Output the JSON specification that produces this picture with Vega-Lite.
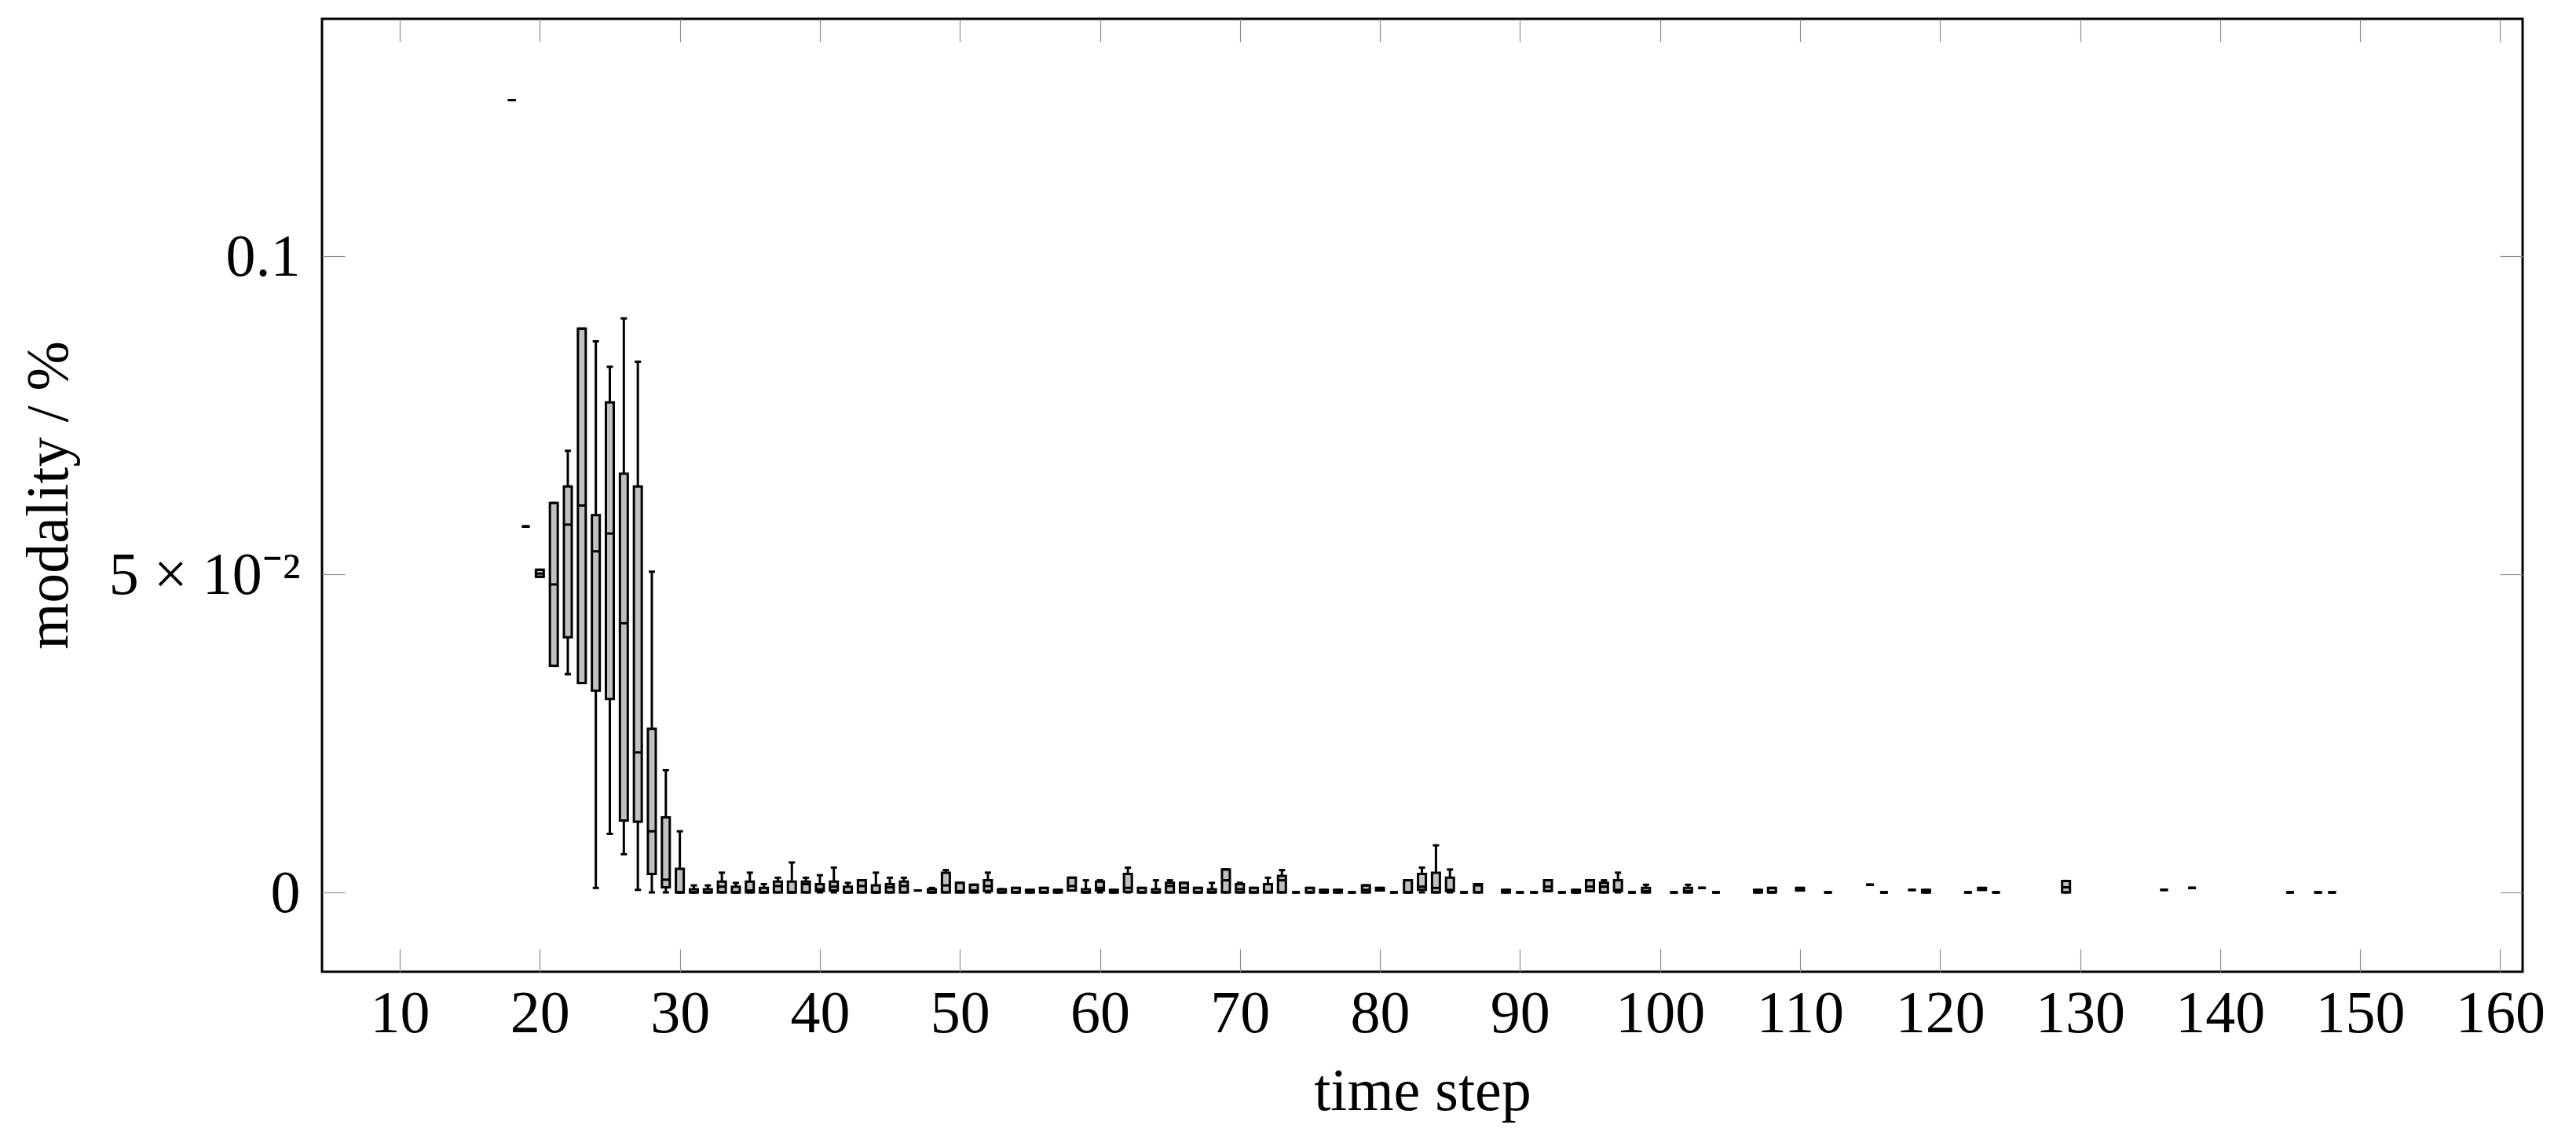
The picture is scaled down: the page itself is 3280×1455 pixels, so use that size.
{
  "$schema": "https://vega.github.io/schema/vega-lite/v6.json",
  "autosize": "none",
  "padding": {"left": 410, "top": 24, "right": 68, "bottom": 218},
  "width": 2802,
  "height": 1213,
  "background": "white",
  "config": {
    "font": "Liberation Serif",
    "view": {"stroke": "black", "strokeWidth": 3},
    "axis": {"grid": false, "domain": false, "labelFlush": false, "labelOverlap": false, "labelLimit": 0, "tickColor": "#8c8c8c", "tickWidth": 1.2, "tickSize": -29, "labelColor": "black", "titleColor": "black", "labelFont": "Liberation Serif", "titleFont": "Liberation Serif", "labelFontSize": 76, "titleFontSize": 76, "titleFontWeight": "normal"}
  },
  "data": {"values": [
    {"step": 18, "lo": 0.1245, "q1": 0.1245, "med": 0.1245, "q3": 0.1245, "hi": 0.1245},
    {"step": 19, "lo": 0.0575, "q1": 0.0575, "med": 0.0575, "q3": 0.0575, "hi": 0.0575},
    {"step": 20, "lo": 0.0496, "q1": 0.0496, "med": 0.0501, "q3": 0.0507, "hi": 0.0507},
    {"step": 21, "lo": 0.0356, "q1": 0.0356, "med": 0.0484, "q3": 0.0612, "hi": 0.0612},
    {"step": 22, "lo": 0.0343, "q1": 0.0401, "med": 0.0578, "q3": 0.0638, "hi": 0.0694},
    {"step": 23, "lo": 0.0329, "q1": 0.0329, "med": 0.0608, "q3": 0.0886, "hi": 0.0886},
    {"step": 24, "lo": 0.0007, "q1": 0.0317, "med": 0.0536, "q3": 0.0593, "hi": 0.0866},
    {"step": 25, "lo": 0.0092, "q1": 0.0304, "med": 0.0564, "q3": 0.0770, "hi": 0.0826},
    {"step": 26, "lo": 0.0060, "q1": 0.0113, "med": 0.0423, "q3": 0.0658, "hi": 0.0902},
    {"step": 27, "lo": 0.0004, "q1": 0.0111, "med": 0.0220, "q3": 0.0638, "hi": 0.0834},
    {"step": 28, "lo": 0, "q1": 0.0029, "med": 0.0096, "q3": 0.0257, "hi": 0.0504},
    {"step": 29, "lo": 0, "q1": 0.0008, "med": 0.0020, "q3": 0.0118, "hi": 0.0192},
    {"step": 30, "lo": 0, "q1": 0, "med": 0, "q3": 0.0037, "hi": 0.0096},
    {"step": 31, "lo": 0, "q1": 0, "med": 0, "q3": 0.0005, "hi": 0.0011},
    {"step": 32, "lo": 0, "q1": 0, "med": 0, "q3": 0.0005, "hi": 0.0011},
    {"step": 33, "lo": 0, "q1": 0, "med": 0.0009, "q3": 0.0017, "hi": 0.0031},
    {"step": 34, "lo": 0, "q1": 0, "med": 0, "q3": 0.0009, "hi": 0.0015},
    {"step": 35, "lo": 0, "q1": 0, "med": 0.0003, "q3": 0.0017, "hi": 0.0031},
    {"step": 36, "lo": 0, "q1": 0, "med": 0, "q3": 0.0007, "hi": 0.0013},
    {"step": 37, "lo": 0, "q1": 0, "med": 0.0010, "q3": 0.0017, "hi": 0.0023},
    {"step": 38, "lo": 0, "q1": 0, "med": 0, "q3": 0.0017, "hi": 0.0047},
    {"step": 39, "lo": 0, "q1": 0, "med": 0.0013, "q3": 0.0017, "hi": 0.0023},
    {"step": 40, "lo": 0, "q1": 0.0002, "med": 0.0005, "q3": 0.0013, "hi": 0.0027},
    {"step": 41, "lo": 0, "q1": 0.0003, "med": 0.0009, "q3": 0.0017, "hi": 0.0039},
    {"step": 42, "lo": 0, "q1": 0, "med": 0, "q3": 0.0009, "hi": 0.0015},
    {"step": 43, "lo": 0, "q1": 0, "med": 0.0010, "q3": 0.0019, "hi": 0.0019},
    {"step": 44, "lo": 0, "q1": 0, "med": 0, "q3": 0.0011, "hi": 0.0031},
    {"step": 45, "lo": 0, "q1": 0, "med": 0.0008, "q3": 0.0013, "hi": 0.0023},
    {"step": 46, "lo": 0, "q1": 0, "med": 0.0010, "q3": 0.0017, "hi": 0.0023},
    {"step": 47, "lo": 0.0003, "q1": 0.0003, "med": 0.0003, "q3": 0.0003, "hi": 0.0003},
    {"step": 48, "lo": 0, "q1": 0, "med": 0, "q3": 0.0005, "hi": 0.0007},
    {"step": 49, "lo": 0, "q1": 0, "med": 0.0011, "q3": 0.0031, "hi": 0.0035},
    {"step": 50, "lo": 0, "q1": 0, "med": 0.0002, "q3": 0.0015, "hi": 0.0015},
    {"step": 51, "lo": 0, "q1": 0, "med": 0.0003, "q3": 0.0012, "hi": 0.0012},
    {"step": 52, "lo": 0, "q1": 0.0002, "med": 0.0010, "q3": 0.0019, "hi": 0.0031},
    {"step": 53, "lo": 0, "q1": 0, "med": 0, "q3": 0.0005, "hi": 0.0005},
    {"step": 54, "lo": 0, "q1": 0, "med": 0, "q3": 0.0007, "hi": 0.0007},
    {"step": 55, "lo": 0, "q1": 0, "med": 0, "q3": 0.0004, "hi": 0.0004},
    {"step": 56, "lo": 0, "q1": 0, "med": 0, "q3": 0.0007, "hi": 0.0007},
    {"step": 57, "lo": 0, "q1": 0, "med": 0, "q3": 0.0004, "hi": 0.0004},
    {"step": 58, "lo": 0.0003, "q1": 0.0003, "med": 0.0010, "q3": 0.0023, "hi": 0.0023},
    {"step": 59, "lo": 0, "q1": 0, "med": 0, "q3": 0.0005, "hi": 0.0019},
    {"step": 60, "lo": 0, "q1": 0.0003, "med": 0.0007, "q3": 0.0017, "hi": 0.0019},
    {"step": 61, "lo": 0, "q1": 0, "med": 0, "q3": 0.0004, "hi": 0.0004},
    {"step": 62, "lo": 0, "q1": 0.0001, "med": 0.0007, "q3": 0.0029, "hi": 0.0039},
    {"step": 63, "lo": 0, "q1": 0, "med": 0, "q3": 0.0007, "hi": 0.0007},
    {"step": 64, "lo": 0, "q1": 0, "med": 0, "q3": 0.0005, "hi": 0.0019},
    {"step": 65, "lo": 0, "q1": 0, "med": 0.0010, "q3": 0.0015, "hi": 0.0019},
    {"step": 66, "lo": 0, "q1": 0, "med": 0.0007, "q3": 0.0015, "hi": 0.0015},
    {"step": 67, "lo": 0, "q1": 0, "med": 0, "q3": 0.0007, "hi": 0.0007},
    {"step": 68, "lo": 0, "q1": 0, "med": 0, "q3": 0.0005, "hi": 0.0015},
    {"step": 69, "lo": 0, "q1": 0, "med": 0.0019, "q3": 0.0036, "hi": 0.0036},
    {"step": 70, "lo": 0, "q1": 0, "med": 0.0005, "q3": 0.0013, "hi": 0.0015},
    {"step": 71, "lo": 0, "q1": 0, "med": 0, "q3": 0.0007, "hi": 0.0007},
    {"step": 72, "lo": 0, "q1": 0, "med": 0.0001, "q3": 0.0013, "hi": 0.0023},
    {"step": 73, "lo": 0, "q1": 0, "med": 0.0019, "q3": 0.0026, "hi": 0.0035},
    {"step": 74, "lo": 0, "q1": 0, "med": 0, "q3": 0, "hi": 0},
    {"step": 75, "lo": 0, "q1": 0, "med": 0, "q3": 0.0007, "hi": 0.0007},
    {"step": 76, "lo": 0, "q1": 0, "med": 0, "q3": 0.0004, "hi": 0.0004},
    {"step": 77, "lo": 0, "q1": 0, "med": 0, "q3": 0.0004, "hi": 0.0004},
    {"step": 78, "lo": 0, "q1": 0, "med": 0, "q3": 0, "hi": 0},
    {"step": 79, "lo": 0, "q1": 0, "med": 0.0004, "q3": 0.0011, "hi": 0.0011},
    {"step": 80, "lo": 0.0003, "q1": 0.0003, "med": 0.0005, "q3": 0.0007, "hi": 0.0007},
    {"step": 81, "lo": 0, "q1": 0, "med": 0, "q3": 0, "hi": 0},
    {"step": 82, "lo": 0, "q1": 0, "med": 0, "q3": 0.0019, "hi": 0.0019},
    {"step": 83, "lo": 0, "q1": 0.0004, "med": 0.0009, "q3": 0.0029, "hi": 0.0039},
    {"step": 84, "lo": 0, "q1": 0, "med": 0.0007, "q3": 0.0031, "hi": 0.0074},
    {"step": 85, "lo": 0, "q1": 0.0002, "med": 0.0004, "q3": 0.0023, "hi": 0.0036},
    {"step": 86, "lo": 0, "q1": 0, "med": 0, "q3": 0, "hi": 0},
    {"step": 87, "lo": 0, "q1": 0, "med": 0.0011, "q3": 0.0013, "hi": 0.0013},
    {"step": 89, "lo": 0, "q1": 0, "med": 0, "q3": 0.0004, "hi": 0.0004},
    {"step": 90, "lo": 0, "q1": 0, "med": 0, "q3": 0, "hi": 0},
    {"step": 91, "lo": 0, "q1": 0, "med": 0, "q3": 0, "hi": 0},
    {"step": 92, "lo": 0.0002, "q1": 0.0002, "med": 0.0009, "q3": 0.0019, "hi": 0.0019},
    {"step": 93, "lo": 0, "q1": 0, "med": 0, "q3": 0, "hi": 0},
    {"step": 94, "lo": 0, "q1": 0, "med": 0, "q3": 0.0004, "hi": 0.0004},
    {"step": 95, "lo": 0.0002, "q1": 0.0002, "med": 0.0009, "q3": 0.0019, "hi": 0.0019},
    {"step": 96, "lo": 0, "q1": 0, "med": 0.0009, "q3": 0.0015, "hi": 0.0019},
    {"step": 97, "lo": 0, "q1": 0.0002, "med": 0.0004, "q3": 0.0019, "hi": 0.0031},
    {"step": 98, "lo": 0, "q1": 0, "med": 0, "q3": 0, "hi": 0},
    {"step": 99, "lo": 0, "q1": 0, "med": 0.0002, "q3": 0.0007, "hi": 0.0012},
    {"step": 101, "lo": 0, "q1": 0, "med": 0, "q3": 0, "hi": 0},
    {"step": 102, "lo": 0, "q1": 0, "med": 0.0002, "q3": 0.0007, "hi": 0.0012},
    {"step": 103, "lo": 0.0007, "q1": 0.0007, "med": 0.0007, "q3": 0.0007, "hi": 0.0007},
    {"step": 104, "lo": 0, "q1": 0, "med": 0, "q3": 0, "hi": 0},
    {"step": 107, "lo": 0, "q1": 0, "med": 0, "q3": 0.0004, "hi": 0.0004},
    {"step": 108, "lo": 0, "q1": 0, "med": 0, "q3": 0.0007, "hi": 0.0007},
    {"step": 110, "lo": 0.0003, "q1": 0.0003, "med": 0.0005, "q3": 0.0007, "hi": 0.0007},
    {"step": 112, "lo": 0, "q1": 0, "med": 0, "q3": 0, "hi": 0},
    {"step": 115, "lo": 0.0012, "q1": 0.0012, "med": 0.0012, "q3": 0.0012, "hi": 0.0012},
    {"step": 116, "lo": 0, "q1": 0, "med": 0, "q3": 0, "hi": 0},
    {"step": 118, "lo": 0.0004, "q1": 0.0004, "med": 0.0004, "q3": 0.0004, "hi": 0.0004},
    {"step": 119, "lo": 0, "q1": 0, "med": 0, "q3": 0.0004, "hi": 0.0004},
    {"step": 122, "lo": 0, "q1": 0, "med": 0, "q3": 0, "hi": 0},
    {"step": 123, "lo": 0.0004, "q1": 0.0004, "med": 0.0005, "q3": 0.0007, "hi": 0.0007},
    {"step": 124, "lo": 0, "q1": 0, "med": 0, "q3": 0, "hi": 0},
    {"step": 129, "lo": 0, "q1": 0, "med": 0.0008, "q3": 0.0018, "hi": 0.0018},
    {"step": 136, "lo": 0.0004, "q1": 0.0004, "med": 0.0004, "q3": 0.0004, "hi": 0.0004},
    {"step": 138, "lo": 0.0007, "q1": 0.0007, "med": 0.0007, "q3": 0.0007, "hi": 0.0007},
    {"step": 145, "lo": 0, "q1": 0, "med": 0, "q3": 0, "hi": 0},
    {"step": 147, "lo": 0, "q1": 0, "med": 0, "q3": 0, "hi": 0},
    {"step": 148, "lo": 0, "q1": 0, "med": 0, "q3": 0, "hi": 0}
  ]},
  "resolve": {"axis": {"x": "independent", "y": "independent"}},
  "layer": [
    {
      "mark": {"type": "rule", "color": "black", "strokeWidth": 3, "opacity": 1},
      "encoding": {
        "x": {"field": "step", "type": "quantitative", "scale": {"domain": [4.724, 161.325], "nice": false, "zero": false},
              "axis": {"orient": "top", "labels": false, "title": null, "values": [10,20,30,40,50,60,70,80,90,100,110,120,130,140,150,160]}},
        "y": {"field": "lo", "type": "quantitative", "scale": {"domain": [-0.01247, 0.13728], "nice": false, "zero": false},
              "axis": {"orient": "right", "labels": false, "title": null, "values": [0, 0.05, 0.1]}},
        "y2": {"field": "hi"}
      }
    },
    {
      "mark": {"type": "bar", "width": 10, "fill": "#c0c0c0", "stroke": "black", "strokeWidth": 3, "opacity": 1},
      "encoding": {
        "x": {"field": "step", "type": "quantitative", "scale": {"domain": [4.724, 161.325], "nice": false, "zero": false},
              "axis": {"orient": "bottom", "values": [10,20,30,40,50,60,70,80,90,100,110,120,130,140,150,160], "labelBaseline": "alphabetic", "labelPadding": 105, "title": "time step", "titleX": 1401, "titleY": 175, "titleBaseline": "alphabetic", "titleAlign": "center"}},
        "y": {"field": "q1", "type": "quantitative", "scale": {"domain": [-0.01247, 0.13728], "nice": false, "zero": false},
              "axis": {"orient": "left", "values": [0, 0.05, 0.1], "labelExpr": "datum.value == 0 ? '0' : (datum.value > 0.09 ? '0.1' : '5 × 10⁻²')", "labelBaseline": "alphabetic", "labelOffset": 25, "labelPadding": 57, "title": "modality / %", "titleX": -325, "titleY": 606, "titleAngle": -90, "titleBaseline": "alphabetic", "titleAlign": "center"}},
        "y2": {"field": "q3"}
      }
    },
    {
      "mark": {"type": "tick", "orient": "horizontal", "color": "black", "size": 10, "thickness": 3, "opacity": 1},
      "encoding": {
        "x": {"field": "step", "type": "quantitative", "scale": {"domain": [4.724, 161.325], "nice": false, "zero": false}, "axis": null},
        "y": {"field": "med", "type": "quantitative", "scale": {"domain": [-0.01247, 0.13728], "nice": false, "zero": false}, "axis": null}
      }
    },
    {
      "mark": {"type": "tick", "orient": "horizontal", "color": "black", "size": 8, "thickness": 3, "opacity": 1},
      "encoding": {
        "x": {"field": "step", "type": "quantitative", "scale": {"domain": [4.724, 161.325], "nice": false, "zero": false}, "axis": null},
        "y": {"field": "lo", "type": "quantitative", "scale": {"domain": [-0.01247, 0.13728], "nice": false, "zero": false}, "axis": null}
      }
    },
    {
      "mark": {"type": "tick", "orient": "horizontal", "color": "black", "size": 8, "thickness": 3, "opacity": 1},
      "encoding": {
        "x": {"field": "step", "type": "quantitative", "scale": {"domain": [4.724, 161.325], "nice": false, "zero": false}, "axis": null},
        "y": {"field": "hi", "type": "quantitative", "scale": {"domain": [-0.01247, 0.13728], "nice": false, "zero": false}, "axis": null}
      }
    }
  ]
}
